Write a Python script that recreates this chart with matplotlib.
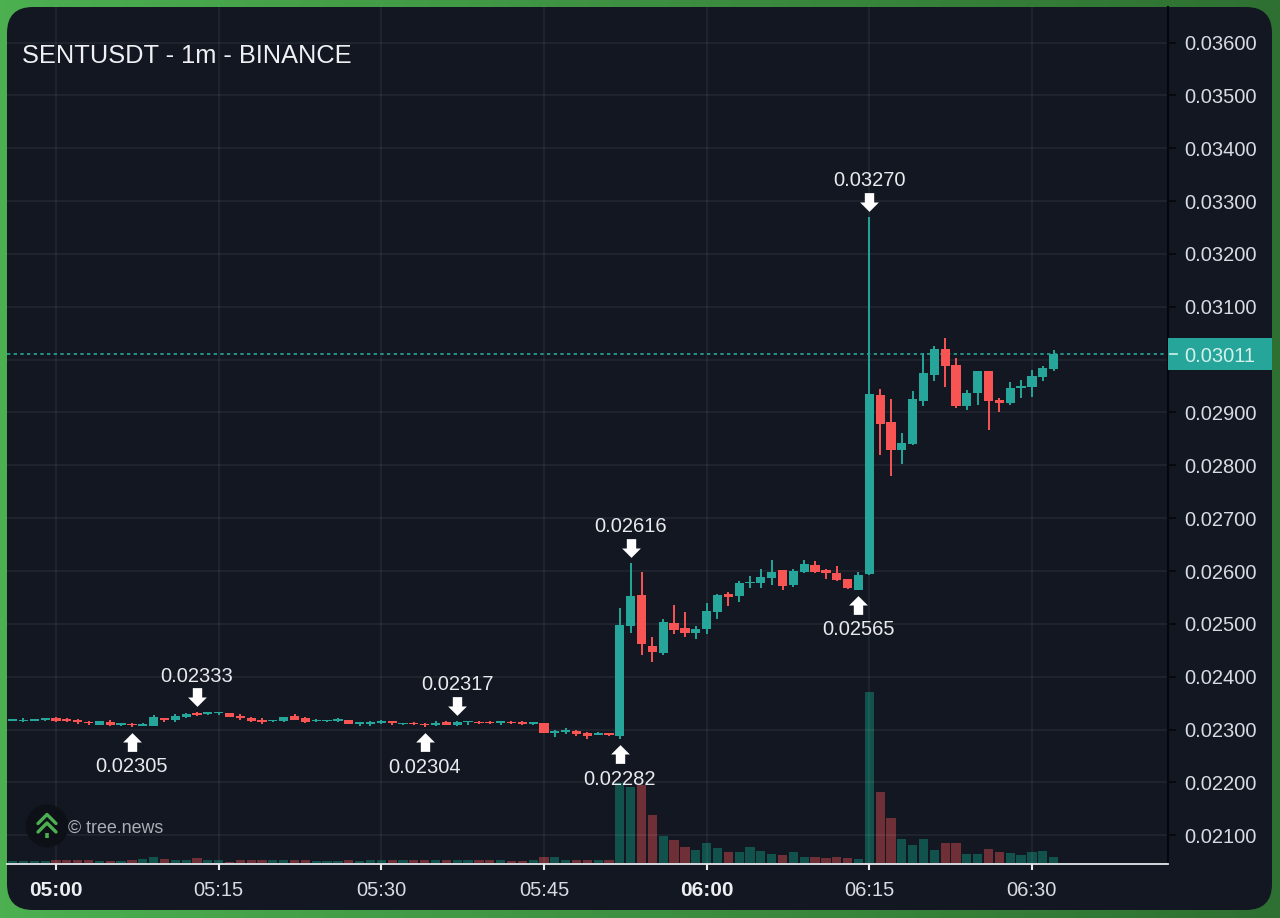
import numpy as np
import matplotlib
matplotlib.use('Agg')
import matplotlib.pyplot as plt
from matplotlib.patches import FancyBboxPatch, Rectangle, Circle
from matplotlib.path import Path
from matplotlib.transforms import offset_copy

plt.rcParams['font.family'] = ['Liberation Sans', 'DejaVu Sans']

# minutes counted from 05:00
minutes = list(range(-4, 93))

open_ = [2317, 2316, 2317, 2318, 2321, 2318, 2319, 2314, 2309, 2315, 2309, 2311, 2307, 2306,
         2320, 2318, 2324, 2331, 2330, 2331, 2332, 2326, 2322, 2319, 2316, 2316, 2325, 2321,
         2316, 2316, 2317, 2318, 2311, 2311, 2313, 2316, 2310, 2313, 2311, 2308, 2314, 2309,
         2314, 2315, 2315, 2313, 2315, 2313, 2311, 2312, 2293, 2296, 2298, 2294, 2290, 2294,
         2288, 2495, 2555, 2458, 2444, 2502, 2492, 2482, 2490, 2523, 2557, 2553, 2577, 2577,
         2587, 2601, 2574, 2598, 2612, 2601, 2596, 2584, 2565, 2594, 2933, 2881, 2829, 2840,
         2922, 2971, 3021, 2989, 2913, 2937, 2978, 2924, 2917, 2946, 2949, 2968, 2983]
high = [2320, 2322, 2320, 2322, 2324, 2322, 2320, 2317, 2316, 2318, 2313, 2313, 2312, 2328,
        2321, 2330, 2332, 2333, 2332, 2333, 2332, 2329, 2324, 2321, 2318, 2324, 2329, 2324,
        2320, 2319, 2321, 2319, 2315, 2316, 2319, 2316, 2313, 2314, 2312, 2316, 2317, 2317,
        2316, 2317, 2317, 2317, 2317, 2316, 2314, 2312, 2299, 2303, 2299, 2295, 2295, 2294,
        2530, 2616, 2598, 2476, 2510, 2536, 2523, 2496, 2540, 2556, 2560, 2581, 2591, 2603,
        2620, 2602, 2603, 2620, 2618, 2604, 2609, 2585, 2599, 3270, 2945, 2926, 2862, 2940,
        3013, 3026, 3040, 3003, 2942, 2979, 2979, 2927, 2958, 2961, 2980, 2988, 3019]
low = [2316, 2314, 2316, 2317, 2314, 2314, 2311, 2309, 2309, 2306, 2307, 2305, 2306, 2306,
       2315, 2315, 2322, 2325, 2327, 2328, 2323, 2319, 2315, 2310, 2315, 2315, 2318, 2313,
       2315, 2315, 2315, 2311, 2307, 2307, 2311, 2309, 2309, 2308, 2304, 2307, 2309, 2306,
       2309, 2310, 2311, 2309, 2310, 2308, 2308, 2294, 2285, 2292, 2288, 2283, 2289, 2288,
       2282, 2482, 2441, 2427, 2441, 2481, 2476, 2472, 2481, 2509, 2533, 2541, 2567, 2567,
       2574, 2565, 2570, 2596, 2597, 2584, 2582, 2566, 2565, 2592, 2819, 2780, 2802, 2838,
       2913, 2959, 2948, 2909, 2905, 2915, 2867, 2900, 2915, 2927, 2930, 2959, 2979]
close = [2319, 2319, 2318, 2319, 2316, 2317, 2314, 2312, 2316, 2308, 2313, 2308, 2309, 2323,
         2318, 2326, 2330, 2328, 2331, 2332, 2323, 2322, 2316, 2315, 2317, 2323, 2319, 2314,
         2317, 2318, 2319, 2311, 2313, 2314, 2315, 2312, 2311, 2310, 2308, 2313, 2309, 2315,
         2316, 2312, 2312, 2314, 2312, 2311, 2314, 2294, 2298, 2298, 2291, 2288, 2294, 2289,
         2497, 2553, 2461, 2446, 2504, 2488, 2483, 2490, 2524, 2555, 2551, 2577, 2579, 2588,
         2598, 2572, 2600, 2614, 2598, 2597, 2583, 2567, 2593, 2934, 2879, 2829, 2843, 2925,
         2974, 3021, 2988, 2913, 2937, 2978, 2921, 2918, 2946, 2951, 2969, 2985, 3011]
volume = [2, 2, 2, 2, 3, 3, 3, 3, 2.5, 2.5, 2.5, 3, 4, 6, 4, 3, 3, 5, 3, 3, 1.5, 3, 3, 3, 3, 3, 3, 3,
          2, 2, 2.5, 3, 2.5, 3, 3, 3, 3, 3, 3, 3, 3, 3, 3, 3, 3, 3, 2, 2, 3, 6, 6.5, 3, 3, 3, 3, 3,
          80, 76, 78, 48, 27, 23, 16, 13, 20, 15, 11, 11, 16, 12, 9, 8, 11, 6, 6, 5, 6, 5, 4,
          171, 71, 45, 24, 18, 24, 13, 20, 20, 9, 9, 14, 11, 10, 8, 11, 12, 6]

open_ = np.array(open_) / 1e5
high = np.array(high) / 1e5
low = np.array(low) / 1e5
close = np.array(close) / 1e5
up = close >= open_

price_ticks = [0.036, 0.035, 0.034, 0.033, 0.032, 0.031, 0.030, 0.029, 0.028, 0.027, 0.026, 0.025,
               0.024, 0.023, 0.022, 0.021]
time_ticks = [0, 15, 30, 45, 60, 75, 90]
time_labels = ['05:00', '05:15', '05:30', '05:45', '06:00', '06:15', '06:30']
last_price = 0.03011

# labelled extremes: minute, price
peaks = [(13, 0.02333), (37, 0.02317), (53, 0.02616), (75, 0.03270)]
dips = [(7, 0.02305), (34, 0.02304), (52, 0.02282), (74, 0.02565)]

TEAL = '#26a69a'
RED = '#f95454'
VOL_TEAL = '#11524d'
VOL_RED = '#6f2f37'
BG = '#131722'
TEXT = '#d8dbe2'

W, H = 1280, 918
fig = plt.figure(figsize=(W / 100, H / 100), dpi=100)

# green frame and rounded card
bg = fig.add_axes([0, 0, 1, 1], zorder=-1)
grad = np.linspace(0, 1, 256)[None, :, None]
frame = (1 - grad) * np.array([76, 175, 80]) + grad * np.array([46, 112, 50])
bg.imshow(frame / 255, extent=[0, W, H, 0], aspect='auto')
bg.add_patch(FancyBboxPatch((7, 7), 1265, 903, boxstyle='round,pad=0,rounding_size=26',
                            facecolor=BG, edgecolor='none'))
bg.set_xlim(0, W)
bg.set_ylim(H, 0)
bg.axis('off')

rect = [7 / W, (H - 864) / H, 1161 / W, 857 / H]
vol_ax = fig.add_axes(rect, zorder=0)
ax = fig.add_axes(rect, zorder=1, sharex=vol_ax)
ax.patch.set_visible(False)

# volume
vol_colors = [VOL_TEAL if u else VOL_RED for u in up]
vol_ax.bar(minutes, volume, width=0.85, color=vol_colors, linewidth=0)
vol_ax.set_ylim(-1, 856)
vol_ax.axis('off')

# candles
colors = [TEAL if u else RED for u in up]
ax.vlines(minutes, low, high, colors=colors, linewidth=1.4, zorder=3)
ax.bar(minutes, np.maximum(np.abs(close - open_), 0.00003), bottom=np.minimum(open_, close),
       width=0.85, color=colors, linewidth=0, zorder=3)

ax.set_xlim(-4.52, 102.55)
ax.set_ylim(0.020456, 0.036672)

ax.grid(True, color='white', alpha=0.06, linewidth=1.3, zorder=0)
ax.set_axisbelow(True)
for side in ['top', 'left']:
    ax.spines[side].set_visible(False)
ax.spines['right'].set_color('#05070b')
ax.spines['right'].set_linewidth(1.6)
ax.spines['bottom'].set_color('#e6e8ec')
ax.spines['bottom'].set_linewidth(1.3)

ax.yaxis.tick_right()
ax.set_yticks(price_ticks)
# the 0.03000 label is hidden behind the last price tag
ax.set_yticklabels(['' if abs(p - 0.030) < 1e-9 else '%.5f' % p for p in price_ticks],
                   fontsize=14.5, color=TEXT)
ax.tick_params(axis='y', length=5.5, width=1.2, color='#05070b', pad=6)
ax.set_xticks(time_ticks)
ax.set_xticklabels(time_labels, fontsize=14.5, color=TEXT)
ax.tick_params(axis='x', length=4.5, width=1.5, color='#e6e8ec', pad=8)
for lab in ax.get_xticklabels():
    if lab.get_text() in ('05:00', '06:00'):
        lab.set_fontweight('bold')
        lab.set_fontsize(15)
        lab.set_color('#eceef2')

# last price line and tag
ax.axhline(last_price, color=TEAL, linewidth=1.2, linestyle=(0, (2, 2)), zorder=2)
tag_h = 32 / 52850
ax.add_patch(Rectangle((1.0, last_price - tag_h / 2), 103.5 / 1161, tag_h, facecolor=TEAL,
                       edgecolor='none', transform=ax.get_yaxis_transform(), clip_on=False, zorder=5))
ax.plot([1.002, 1.0075], [last_price, last_price], color='#d5f0ec', linewidth=1.2,
        transform=ax.get_yaxis_transform(), clip_on=False, zorder=6)
ax.annotate('%.5f' % last_price, xy=(1.0, last_price), xycoords=ax.get_yaxis_transform(),
            xytext=(16.5, -1), textcoords='offset pixels', fontsize=14.5, color='#d5f0ec',
            va='center_baseline', ha='left', zorder=7, annotation_clip=False)

# arrows with price labels
arrow_up = Path([(0, 1), (1, 0), (0.5, 0), (0.5, -1), (-0.5, -1), (-0.5, 0), (-1, 0), (0, 1)], closed=True)
arrow_down = Path([(0, -1), (1, 0), (0.5, 0), (0.5, 1), (-0.5, 1), (-0.5, 0), (-1, 0), (0, -1)], closed=True)
for m, p in peaks:
    ax.plot([m], [p], marker=arrow_down, markersize=13.5, color='white', markeredgewidth=0, zorder=8,
            transform=offset_copy(ax.transData, fig, x=0, y=15, units='dots'))
    ax.annotate('%.5f' % p, xy=(m, p), xytext=(0, 36), textcoords='offset pixels', ha='center', va='center',
                fontsize=14.5, color='#e8eaee', zorder=8)
for m, p in dips:
    ax.plot([m], [p], marker=arrow_up, markersize=13.5, color='white', markeredgewidth=0, zorder=8,
            transform=offset_copy(ax.transData, fig, x=0, y=-15, units='dots'))
    ax.annotate('%.5f' % p, xy=(m, p), xytext=(0, -40), textcoords='offset pixels', ha='center', va='center',
                fontsize=14.5, color='#e8eaee', zorder=8)

# title and watermark
fig.text(22 / W, 1 - 56 / H, 'SENTUSDT - 1m - BINANCE', fontsize=18.3, color='#eef0f3', va='center', ha='left')
fig.text(68 / W, 1 - 828 / H, '\u00a9 tree.news', fontsize=12.9, color='#a9adb5', va='center', ha='left', zorder=4)

logo = fig.add_axes([25 / W, (H - 848) / H, 44 / W, 44 / H], zorder=3)
logo.set_xlim(0, 44)
logo.set_ylim(44, 0)
logo.axis('off')
logo.add_patch(Circle((22, 22), 21.5, facecolor='#0d1117', edgecolor='none'))
logo.plot([13, 22, 31], [19.5, 10.5, 19.5], color='#4caf50', linewidth=2.4, solid_capstyle='round')
logo.plot([13, 22, 31], [28, 19, 28], color='#4caf50', linewidth=2.4, solid_capstyle='round')
logo.plot([22, 22], [29, 33.5], color='#4caf50', linewidth=2.6, solid_capstyle='butt')

fig.savefig('out.png', dpi=100)
